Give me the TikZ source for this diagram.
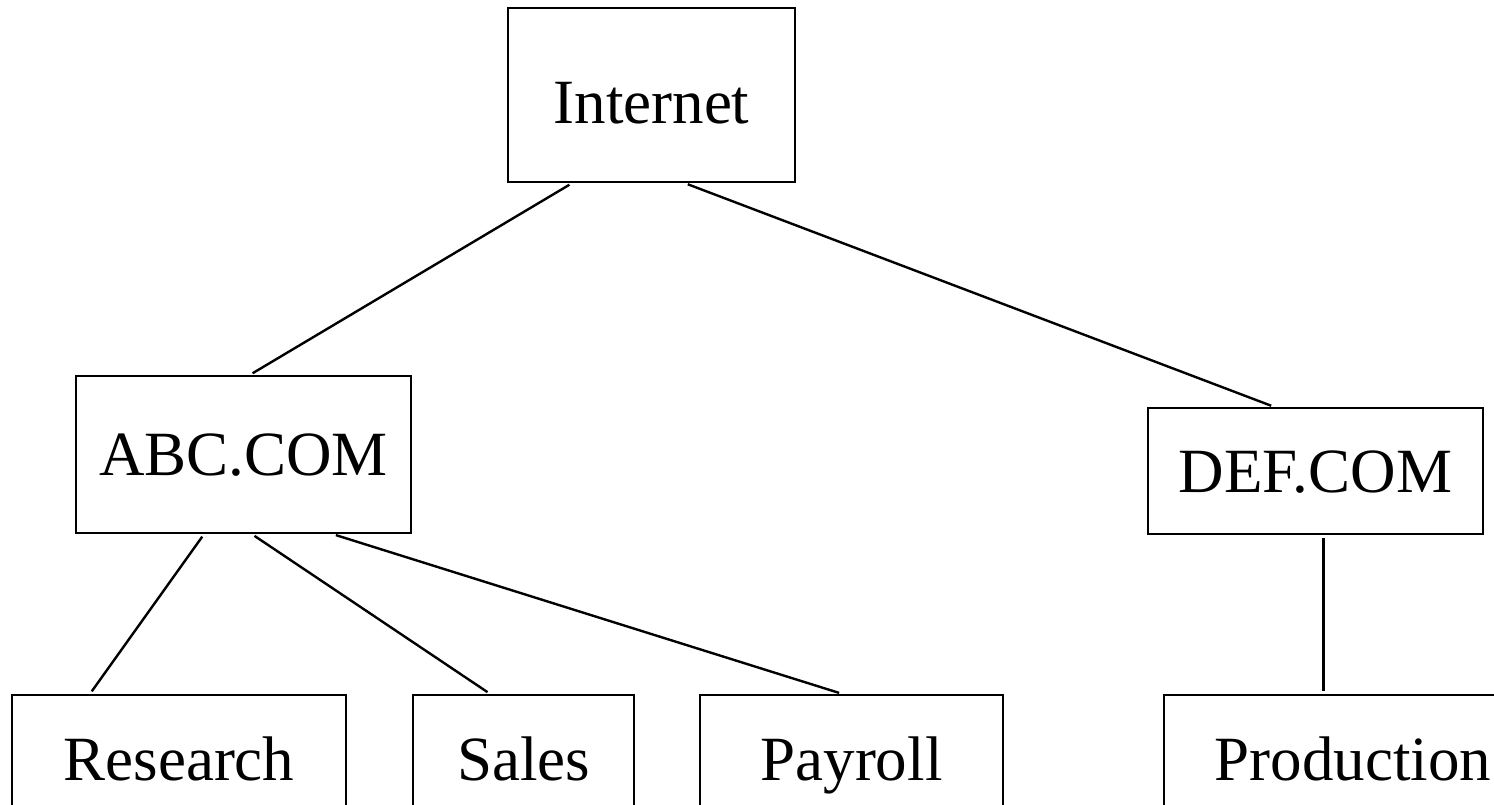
\documentclass[tikz,border=0pt]{standalone}
\usepackage{fontspec}
\setmainfont{Liberation Serif}

\begin{document}
\begin{tikzpicture}[
  x=1pt,y=-1pt,line width=2.4pt,
  every node/.style={draw,rectangle,inner sep=0pt,
    font=\fontsize{63}{70}\selectfont,text height=42pt,text depth=0pt},
  every edge/.append style={draw,shorten <=3pt,shorten >=3pt},
  ]
  \useasboundingbox (0,0) rectangle (1494,804);
  \clip (0,0) rectangle (1494,804);
  \node[minimum width=287pt,minimum height=174pt,text height=56pt](n11) at (651.5,95){Internet};
  \node[minimum width=335pt,minimum height=157pt](n21) at (243.5,454.5){ABC.COM};
  \node[minimum width=335pt,minimum height=126pt](n22) at (1315.5,471){DEF.COM};
  \node[minimum width=334pt,minimum height=128pt](n31) at (179,759){Research};
  \node[minimum width=221pt,minimum height=128pt](n32) at (523.5,759){Sales};
  \node[minimum width=303pt,minimum height=128pt](n33) at (851.5,759){Payroll};
  \node[minimum width=378pt,minimum height=128pt](n34) at (1353,759){Production};
  \path
  ([xshift=-79.5pt]n11.south) edge ([xshift=6.5pt]n21.north)
  ([xshift=33.5pt]n11.south) edge ([xshift=-41.5pt]n22.north)
  ([xshift=-39.5pt]n21.south) edge ([xshift=-89pt]n31.north)
  ([xshift=8.5pt]n21.south) edge ([xshift=-33.5pt]n32.north)
  ([xshift=89.5pt]n21.south) edge ([xshift=-9.5pt]n33.north)
  ([xshift=8pt]n22.south) edge ([xshift=-29.5pt]n34.north);
\end{tikzpicture}
\end{document}
